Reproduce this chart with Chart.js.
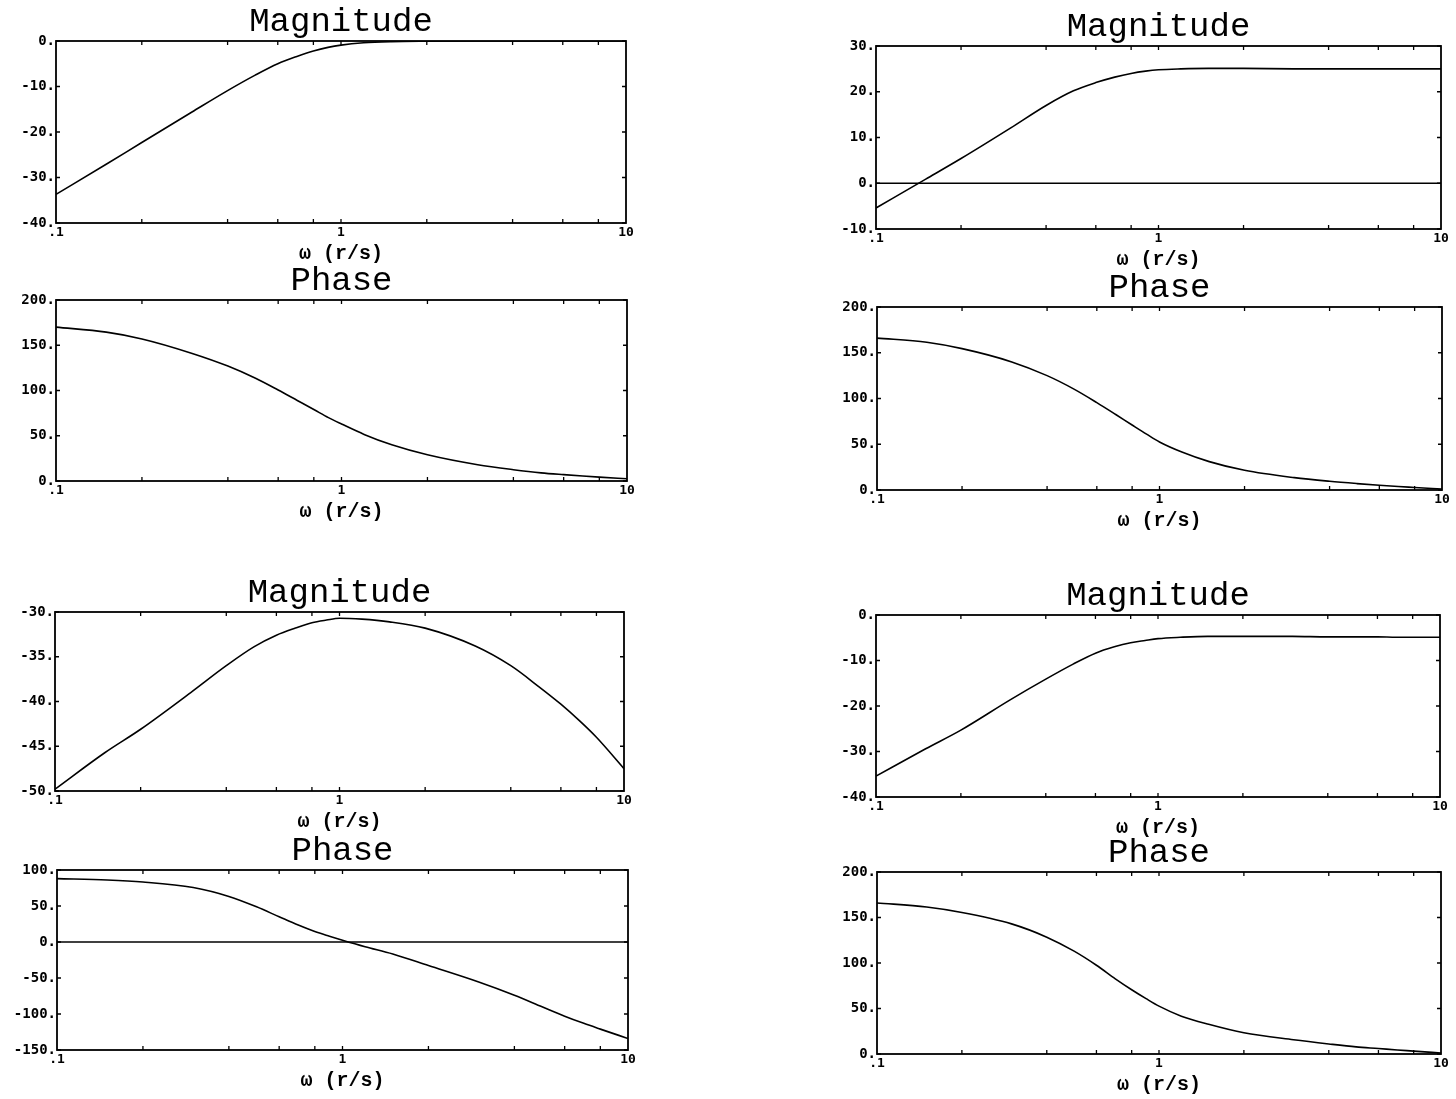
<!DOCTYPE html>
<html lang="en">
<head>
<meta charset="UTF-8">
<title>Magnitude / Phase</title>
<script src="https://cdn.jsdelivr.net/npm/chart.js"></script>
<style>
  body { margin: 0; background: #fff; width: 1456px; height: 1099px; position: relative; overflow: hidden; }
  canvas { position: absolute; }
</style>
</head>
<body>
<script>
// frequency points (rad/s)
const omega = [0.1, 0.15, 0.2, 0.3, 0.4, 0.5, 0.6, 0.7, 0.8, 0.9, 1, 1.2, 1.5, 2, 3, 4, 5, 6, 7, 8, 10];

// top left pair
const magA   = [-33.7, -27.1, -22.3, -15.6, -10.9, -7.5, -5.0, -3.4, -2.2, -1.4, -0.9, -0.4, -0.15, -0.05, 0, 0, 0, 0, 0, 0, 0];
const phaseA = [170, 164.5, 157, 141, 127, 113.5, 100.5, 89, 79, 70, 63, 51.5, 40, 29, 18, 12.5, 9, 7, 5.5, 4.3, 2.5];

// top right pair
const magB    = [-5.4, 0.9, 5.4, 12.1, 17.0, 20.2, 22.0, 23.2, 24.0, 24.5, 24.8, 25.0, 25.1, 25.1, 25.0, 25.0, 25.0, 25.0, 25.0, 25.0, 25.0];
const magBRef = [0, 0, 0, 0, 0, 0, 0, 0, 0, 0, 0, 0, 0, 0, 0, 0, 0, 0, 0, 0, 0];
const phaseB  = [166, 161.5, 154.5, 140, 125, 110, 95.5, 82.5, 71, 61, 52.5, 41.5, 31, 21.5, 13.5, 9.5, 7, 5.2, 3.8, 2.8, 1.1];

// bottom left pair
const magC      = [-49.8, -45.7, -43.1, -39.0, -36.0, -33.9, -32.6, -31.8, -31.2, -30.9, -30.7, -30.8, -31.1, -31.8, -33.8, -36.0, -38.3, -40.3, -42.2, -44.0, -47.5];
const phaseC    = [88, 86.2, 83.4, 75.6, 63.2, 48.8, 35, 23.5, 14.5, 8, 2.5, -6.5, -16.6, -32.7, -55.6, -74, -90, -103, -113, -121, -134];
const phaseCRef = [0, 0, 0, 0, 0, 0, 0, 0, 0, 0, 0, 0, 0, 0, 0, 0, 0, 0, 0, 0, 0];

// bottom right pair
const magD   = [-35.4, -29.4, -25.3, -18.6, -14.1, -10.8, -8.4, -7.0, -6.1, -5.6, -5.2, -4.9, -4.7, -4.7, -4.7, -4.8, -4.8, -4.8, -4.9, -4.9, -4.9];
const phaseD = [166, 161.5, 155.5, 143, 128.4, 113, 97.5, 82.6, 70.6, 60.8, 52.6, 41.6, 32.6, 23.3, 15.6, 11, 7.8, 6, 4.4, 3.2, 1.1];

// axis ticks
const xTickValues = [0.1, 1, 10];
const xTickLabels = ['.1', '1', '10'];
const xMinorTicks = [0.2, 0.4, 0.6, 0.8, 1, 2, 4, 6, 8];
const xLabel = 'ω (r/s)';

// layout (same margin both sides so the title centres over the plot box)
const yAxisW = 56, titleBlock = 36, xAxisH = 41, padRight = 56;

Chart.defaults.color = '#000';

// frame with small inward ticks, like the old plotter output
const frameTicks = {
  id: 'frameTicks',
  afterDatasetsDraw(chart) {
    const {ctx, chartArea: a, scales: {x, y}} = chart;
    ctx.save();
    ctx.strokeStyle = '#000';
    ctx.lineWidth = 1.8;
    ctx.strokeRect(a.left, a.top, a.width, a.height);
    ctx.lineWidth = 1.3;
    ctx.beginPath();
    xMinorTicks.forEach(v => {
      const px = x.getPixelForValue(v);
      ctx.moveTo(px, a.bottom); ctx.lineTo(px, a.bottom - 4);
      ctx.moveTo(px, a.top); ctx.lineTo(px, a.top + 4);
    });
    y.ticks.forEach(t => {
      const py = y.getPixelForValue(t.value);
      ctx.moveTo(a.left, py); ctx.lineTo(a.left + 4, py);
      ctx.moveTo(a.right, py); ctx.lineTo(a.right - 4, py);
    });
    ctx.stroke();
    ctx.restore();
  }
};

function makePanel(box, title, yMin, yMax, yStep, seriesList) {
  const [l, t, r, b] = box;
  const w = (r - l) + yAxisW + padRight;
  const h = titleBlock + (b - t) + xAxisH;
  const canvas = document.createElement('canvas');
  canvas.width = w; canvas.height = h;
  canvas.style.width = w + 'px'; canvas.style.height = h + 'px';
  canvas.style.left = (l - yAxisW) + 'px';
  canvas.style.top = (t - titleBlock) + 'px';
  document.body.appendChild(canvas);

  new Chart(canvas, {
    type: 'line',
    data: {
      datasets: seriesList.map(vals => ({
        data: omega.map((wv, i) => ({x: wv, y: vals[i]})),
        borderColor: '#000',
        borderWidth: 1.6,
        pointRadius: 0,
        fill: false,
        cubicInterpolationMode: 'monotone'
      }))
    },
    options: {
      responsive: false,
      animation: false,
      layout: { padding: 0 },
      plugins: {
        legend: { display: false },
        tooltip: { enabled: false },
        title: {
          display: true,
          text: title,
          color: '#000',
          font: { family: 'Liberation Mono', size: 34, weight: 'normal', lineHeight: 1 },
          padding: { top: 0, bottom: 2 }
        }
      },
      scales: {
        x: {
          type: 'logarithmic',
          min: 0.1,
          max: 10,
          grid: { display: false, drawTicks: false },
          border: { display: false },
          afterBuildTicks: s => { s.ticks = xTickValues.map(v => ({value: v})); },
          afterFit: s => { s.height = xAxisH; s.paddingLeft = 0; s.paddingRight = padRight; },
          ticks: {
            autoSkip: false,
            maxRotation: 0,
            padding: 2,
            font: { family: 'DejaVu Sans Mono', size: 13, weight: 'bold' },
            callback: v => {
              const i = xTickValues.findIndex(x => Math.abs(x - v) < 1e-9);
              return i < 0 ? '' : xTickLabels[i];
            }
          },
          title: {
            display: true,
            text: xLabel,
            font: { family: 'Liberation Mono', size: 20, weight: 'bold', lineHeight: 1 },
            padding: 0
          }
        },
        y: {
          min: yMin,
          max: yMax,
          grid: { display: false, drawTicks: false },
          border: { display: false },
          afterFit: s => { s.width = yAxisW; s.paddingTop = 0; s.paddingBottom = 0; },
          ticks: {
            stepSize: yStep,
            padding: 1,
            font: { family: 'DejaVu Sans Mono', size: 14, weight: 'bold' },
            callback: v => v + '.'
          }
        }
      }
    },
    plugins: [frameTicks]
  });
}

makePanel([56, 41, 626, 223],    'Magnitude', -40, 0, 10, [magA]);
makePanel([56, 300, 627, 481],   'Phase', 0, 200, 50, [phaseA]);
makePanel([55, 612, 624, 791],   'Magnitude', -50, -30, 5, [magC]);
makePanel([57, 870, 628, 1050],  'Phase', -150, 100, 50, [phaseC, phaseCRef]);
makePanel([876, 46, 1441, 229],  'Magnitude', -10, 30, 10, [magB, magBRef]);
makePanel([877, 307, 1442, 490], 'Phase', 0, 200, 50, [phaseB]);
makePanel([876, 615, 1440, 797], 'Magnitude', -40, 0, 10, [magD]);
makePanel([877, 872, 1441, 1054], 'Phase', 0, 200, 50, [phaseD]);
</script>
</body>
</html>
